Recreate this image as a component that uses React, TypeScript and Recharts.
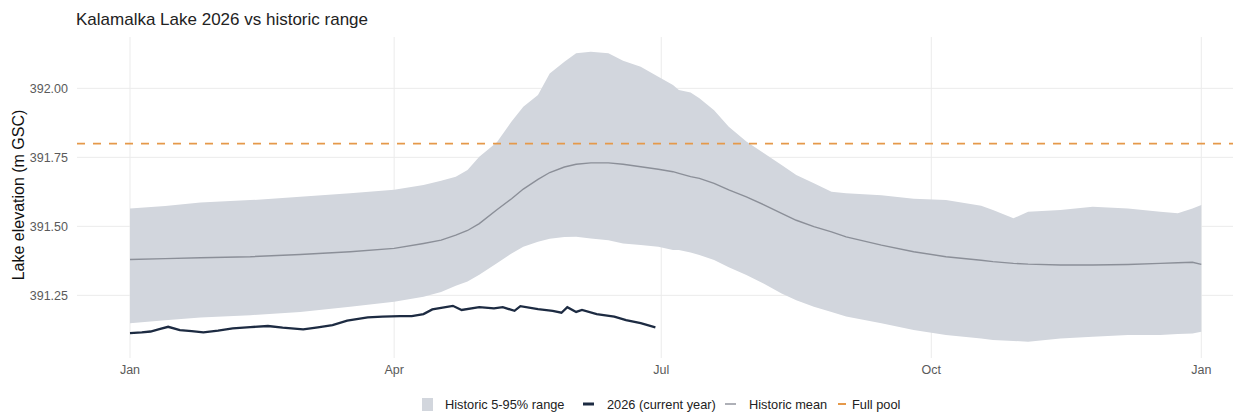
import React from 'react';
import { ComposedChart, Area, Line, XAxis, YAxis, CartesianGrid, ReferenceLine } from 'recharts';

// Day of year (0 = Jan 1) for the historic statistics
const histDays = [0, 12, 24, 41, 58, 75, 90, 100, 106, 111, 115, 119, 125, 130, 134, 139, 143, 148, 152, 157, 163, 168, 174, 180, 185, 187, 191, 194, 199, 204, 210, 216, 222, 227, 233, 239, 244, 256, 267, 278, 290, 294, 301, 306, 317, 328, 340, 351, 357, 362, 365];
const histHigh = [391.565, 391.574, 391.586, 391.595, 391.607, 391.62, 391.633, 391.65, 391.665, 391.68, 391.704, 391.752, 391.805, 391.88, 391.933, 391.976, 392.054, 392.096, 392.127, 392.133, 392.127, 392.1, 392.078, 392.042, 392.012, 391.994, 391.985, 391.964, 391.921, 391.861, 391.807, 391.765, 391.722, 391.686, 391.656, 391.625, 391.62, 391.613, 391.6, 391.595, 391.575, 391.559, 391.529, 391.553, 391.559, 391.571, 391.565, 391.553, 391.547, 391.565, 391.577];
const histMean = [391.38, 391.383, 391.386, 391.39, 391.398, 391.408, 391.42, 391.438, 391.45, 391.468, 391.485, 391.51, 391.56, 391.6, 391.635, 391.67, 391.695, 391.715, 391.725, 391.73, 391.73, 391.725, 391.716, 391.707, 391.698, 391.692, 391.68, 391.674, 391.656, 391.632, 391.607, 391.578, 391.547, 391.522, 391.499, 391.48, 391.462, 391.432, 391.408, 391.39, 391.377, 391.372, 391.366, 391.363, 391.36, 391.36, 391.362, 391.366, 391.368, 391.37, 391.362];
const histLow = [391.149, 391.16, 391.17, 391.178, 391.19, 391.209, 391.227, 391.245, 391.262, 391.285, 391.3, 391.325, 391.366, 391.402, 391.426, 391.444, 391.455, 391.461, 391.462, 391.456, 391.45, 391.438, 391.432, 391.426, 391.414, 391.414, 391.405, 391.396, 391.378, 391.352, 391.324, 391.292, 391.257, 391.232, 391.209, 391.19, 391.173, 391.149, 391.124, 391.106, 391.094, 391.088, 391.085, 391.082, 391.094, 391.1, 391.106, 391.106, 391.11, 391.112, 391.118];

// 2026 observed levels
const curDays = [0, 4, 7, 10, 13, 17, 21, 25, 30, 35, 41, 47, 52, 59, 64, 69, 74, 81, 86, 92, 96, 100, 103, 110, 113, 119, 124, 127, 131, 133, 139, 144, 147, 149, 152, 154, 159, 165, 169, 174, 179];
const curLevel = [391.113, 391.116, 391.119, 391.128, 391.136, 391.124, 391.12, 391.116, 391.122, 391.13, 391.135, 391.139, 391.133, 391.127, 391.134, 391.142, 391.158, 391.17, 391.173, 391.175, 391.175, 391.182, 391.199, 391.212, 391.197, 391.207, 391.203, 391.207, 391.194, 391.211, 391.2, 391.194, 391.187, 391.207, 391.19, 391.197, 391.182, 391.173, 391.16, 391.149, 391.134];

const FULL_POOL = 391.8;

const xTicks = [0, 90, 181, 273, 365];
const xTickLabels = ['Jan', 'Apr', 'Jul', 'Oct', 'Jan'];
const yTicks = [391.25, 391.5, 391.75, 392.0];

const legendLabels = ['Historic 5-95% range', '2026 (current year)', 'Historic mean', 'Full pool'];

const X_DOMAIN: [number, number] = [-18.06, 375.8];
const Y_DOMAIN: [number, number] = [391.023, 392.186];

const FONT = '"Liberation Sans", Arial, Helvetica, sans-serif';
const RIBBON = '#d2d6dd';
const MEAN = '#8b8f98';
const CURRENT = '#1d2b42';
const ORANGE = '#E5994A';

const histData = histDays.map((d, i) => ({ day: d, range: [histLow[i], histHigh[i]], mean: histMean[i] }));
const curData = curDays.map((d, i) => ({ day: d, level: curLevel[i] }));

const hGen = (props: any) => {
  const ax = props && props.yAxis;
  if (ax && typeof ax.scale === 'function') return yTicks.map((t) => ax.scale(t));
  const o = props.offset;
  return yTicks.map((t) => o.top + ((Y_DOMAIN[1] - t) / (Y_DOMAIN[1] - Y_DOMAIN[0])) * o.height);
};
const vGen = (props: any) => {
  const ax = props && props.xAxis;
  if (ax && typeof ax.scale === 'function') return xTicks.map((t) => ax.scale(t));
  const o = props.offset;
  return xTicks.map((t) => o.left + ((t - X_DOMAIN[0]) / (X_DOMAIN[1] - X_DOMAIN[0])) * o.width);
};

export default function App() {
  return (
    <div style={{ position: 'absolute', left: 0, top: 0, width: 1233, height: 415, overflow: 'hidden', background: '#fff' }}>
      <ComposedChart width={1233} height={415} data={histData} margin={{ top: 37, right: 0, bottom: 0, left: 0 }}>
        <CartesianGrid
          stroke="#ebebeb"
          strokeWidth={1}
          horizontalCoordinatesGenerator={hGen}
          verticalCoordinatesGenerator={vGen}
        />
        <XAxis
          type="number"
          dataKey="day"
          domain={X_DOMAIN}
          allowDataOverflow
          ticks={xTicks}
          tickFormatter={(v: number) => xTickLabels[xTicks.indexOf(v)] ?? ''}
          height={57}
          axisLine={false}
          tickLine={false}
          tickSize={0}
          tickMargin={7}
          tick={{ fontSize: 12.5, fill: '#5a5a5a', fontFamily: FONT }}
        />
        <YAxis
          type="number"
          domain={Y_DOMAIN}
          allowDataOverflow
          ticks={yTicks}
          tickFormatter={(v: number) => v.toFixed(2)}
          width={77}
          axisLine={false}
          tickLine={false}
          tickSize={0}
          tickMargin={9}
          tick={{ fontSize: 12.5, fill: '#5a5a5a', fontFamily: FONT }}
        />
        <Area
          type="linear"
          dataKey="range"
          stroke="none"
          fill={RIBBON}
          fillOpacity={1}
          isAnimationActive={false}
          activeDot={false}
        />
        <ReferenceLine y={FULL_POOL} stroke={ORANGE} strokeDasharray="8 8" strokeWidth={1.8} />
        <Line
          type="linear"
          dataKey="mean"
          stroke={MEAN}
          strokeWidth={1.4}
          dot={false}
          activeDot={false}
          isAnimationActive={false}
        />
        <Line
          type="linear"
          data={curData}
          dataKey="level"
          stroke={CURRENT}
          strokeWidth={2.3}
          dot={false}
          activeDot={false}
          isAnimationActive={false}
        />
      </ComposedChart>
      <svg width={1233} height={415} style={{ position: 'absolute', left: 0, top: 0, pointerEvents: 'none' }}>
        <text x={76} y={25} fontSize={17} fill="#222" fontFamily={FONT}>Kalamalka Lake 2026 vs historic range</text>
        <text transform="translate(24,195) rotate(-90)" textAnchor="middle" fontSize={16} fill="#111" fontFamily={FONT}>Lake elevation (m GSC)</text>
        <g fontFamily={FONT} fontSize={12.8} fill="#222">
          <rect x={422} y={398} width={11} height={13} fill={RIBBON} />
          <text x={445} y={408.5}>{legendLabels[0]}</text>
          <line x1={583} x2={594} y1={404} y2={404} stroke={CURRENT} strokeWidth={3} />
          <text x={607} y={408.5}>{legendLabels[1]}</text>
          <line x1={725} x2={736} y1={404} y2={404} stroke={MEAN} strokeWidth={1.4} />
          <text x={749} y={408.5}>{legendLabels[2]}</text>
          <line x1={838} x2={846} y1={404} y2={404} stroke={ORANGE} strokeWidth={2} />
          <text x={852} y={408.5}>{legendLabels[3]}</text>
        </g>
      </svg>
    </div>
  );
}
